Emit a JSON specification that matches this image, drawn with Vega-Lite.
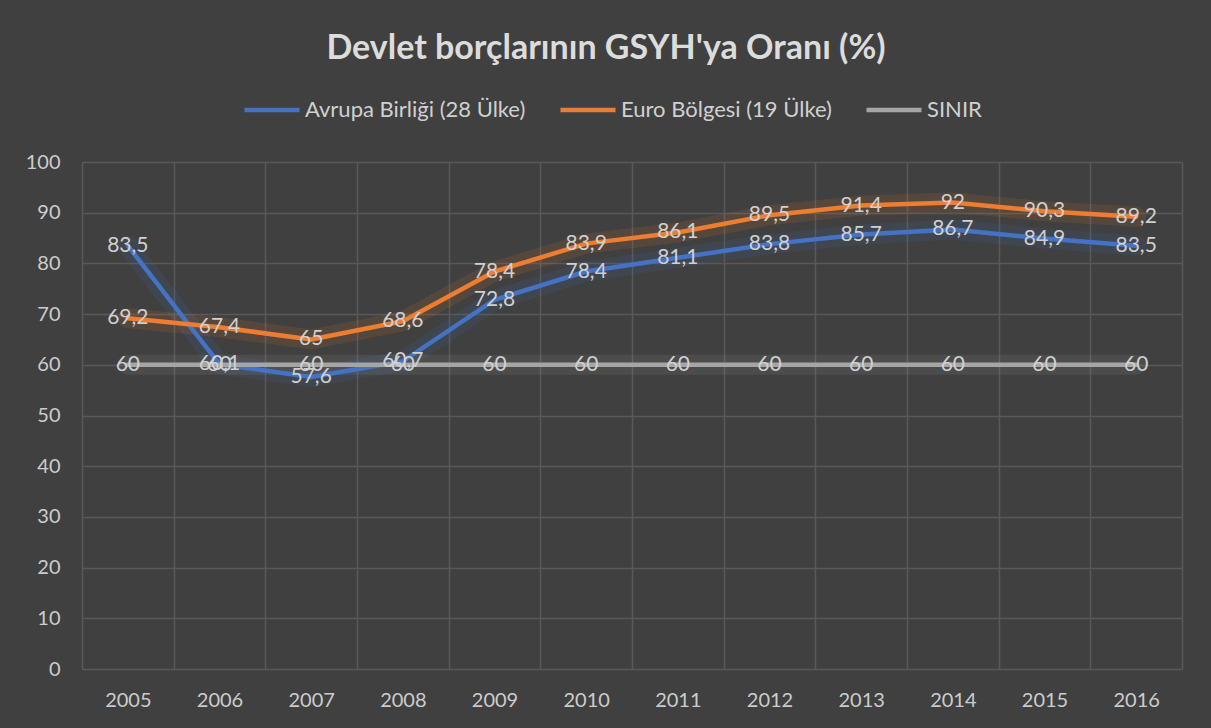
{
  "$schema": "https://vega.github.io/schema/vega-lite/v6.json",
  "width": 1100,
  "height": 507,
  "autosize": {"type": "none"},
  "padding": {"left": 82, "top": 162, "right": 29, "bottom": 59},
  "background": "#404040",
  "title": {
    "text": "Devlet borçlarının GSYH'ya Oranı (%)",
    "font": "Lato",
    "fontSize": 34,
    "fontWeight": "bold",
    "color": "#dcdcdc",
    "anchor": "middle",
    "dx": -26,
    "offset": 14
  },
  "config": {
    "locale": {"number": {"decimal": ",", "thousands": ".", "grouping": [3], "currency": ["", ""]}},
    "view": {"stroke": null},
    "font": "Lato"
  },
  "data": {
    "values": [
      {"year": "2005", "series": "Avrupa Birliği (28 Ülke)", "value": 83.5},
      {"year": "2006", "series": "Avrupa Birliği (28 Ülke)", "value": 60.1},
      {"year": "2007", "series": "Avrupa Birliği (28 Ülke)", "value": 57.6},
      {"year": "2008", "series": "Avrupa Birliği (28 Ülke)", "value": 60.7},
      {"year": "2009", "series": "Avrupa Birliği (28 Ülke)", "value": 72.8},
      {"year": "2010", "series": "Avrupa Birliği (28 Ülke)", "value": 78.4},
      {"year": "2011", "series": "Avrupa Birliği (28 Ülke)", "value": 81.1},
      {"year": "2012", "series": "Avrupa Birliği (28 Ülke)", "value": 83.8},
      {"year": "2013", "series": "Avrupa Birliği (28 Ülke)", "value": 85.7},
      {"year": "2014", "series": "Avrupa Birliği (28 Ülke)", "value": 86.7},
      {"year": "2015", "series": "Avrupa Birliği (28 Ülke)", "value": 84.9},
      {"year": "2016", "series": "Avrupa Birliği (28 Ülke)", "value": 83.5},
      {"year": "2005", "series": "Euro Bölgesi (19 Ülke)", "value": 69.2},
      {"year": "2006", "series": "Euro Bölgesi (19 Ülke)", "value": 67.4},
      {"year": "2007", "series": "Euro Bölgesi (19 Ülke)", "value": 65},
      {"year": "2008", "series": "Euro Bölgesi (19 Ülke)", "value": 68.6},
      {"year": "2009", "series": "Euro Bölgesi (19 Ülke)", "value": 78.4},
      {"year": "2010", "series": "Euro Bölgesi (19 Ülke)", "value": 83.9},
      {"year": "2011", "series": "Euro Bölgesi (19 Ülke)", "value": 86.1},
      {"year": "2012", "series": "Euro Bölgesi (19 Ülke)", "value": 89.5},
      {"year": "2013", "series": "Euro Bölgesi (19 Ülke)", "value": 91.4},
      {"year": "2014", "series": "Euro Bölgesi (19 Ülke)", "value": 92},
      {"year": "2015", "series": "Euro Bölgesi (19 Ülke)", "value": 90.3},
      {"year": "2016", "series": "Euro Bölgesi (19 Ülke)", "value": 89.2},
      {"year": "2005", "series": "SINIR", "value": 60},
      {"year": "2006", "series": "SINIR", "value": 60},
      {"year": "2007", "series": "SINIR", "value": 60},
      {"year": "2008", "series": "SINIR", "value": 60},
      {"year": "2009", "series": "SINIR", "value": 60},
      {"year": "2010", "series": "SINIR", "value": 60},
      {"year": "2011", "series": "SINIR", "value": 60},
      {"year": "2012", "series": "SINIR", "value": 60},
      {"year": "2013", "series": "SINIR", "value": 60},
      {"year": "2014", "series": "SINIR", "value": 60},
      {"year": "2015", "series": "SINIR", "value": 60},
      {"year": "2016", "series": "SINIR", "value": 60}
    ]
  },
  "encoding": {
    "x": {
      "field": "year",
      "type": "ordinal",
      "scale": {"type": "band", "paddingInner": 0, "paddingOuter": 0},
      "axis": {
        "title": null,
        "labelAngle": 0,
        "labelFont": "Lato",
        "labelFontSize": 20,
        "labelColor": "#cccccc",
        "labelPadding": 21,
        "domain": false,
        "ticks": false,
        "grid": true,
        "tickBand": "extent",
        "gridColor": "#585858",
        "gridWidth": 1.5
      }
    },
    "y": {
      "field": "value",
      "type": "quantitative",
      "scale": {"domain": [0, 100], "nice": false},
      "axis": {
        "title": null,
        "values": [0, 10, 20, 30, 40, 50, 60, 70, 80, 90, 100],
        "labelFont": "Lato",
        "labelFontSize": 20,
        "labelColor": "#cccccc",
        "labelPadding": 22,
        "domain": false,
        "ticks": false,
        "grid": true,
        "gridColor": "#585858",
        "gridWidth": 1.5
      }
    },
    "color": {
      "field": "series",
      "type": "nominal",
      "scale": {"domain": ["Avrupa Birliği (28 Ülke)", "Euro Bölgesi (19 Ülke)", "SINIR"], "range": ["#4472C4", "#ED7D31", "#A5A5A5"]},
      "legend": {
        "title": null,
        "orient": "none",
        "direction": "horizontal",
        "legendX": 160,
        "legendY": -82,
        "symbolType": "stroke",
        "symbolSize": 3025,
        "symbolStrokeWidth": 4.5,
        "symbolOpacity": 1,
        "labelFont": "Lato",
        "labelFontSize": 22,
        "labelColor": "#d0d0d0",
        "labelOffset": 3,
        "labelLimit": 0,
        "columnPadding": 25,
        "encode": {"symbols": {"update": {"strokeWidth": {"value": 4.5}, "opacity": {"value": 1}, "strokeOpacity": {"value": 1}}}}
      }
    }
  },
  "layer": [
    {
      "mark": {"type": "line", "strokeWidth": 20, "opacity": 0.13, "strokeCap": "round", "strokeJoin": "round"}
    },
    {
      "mark": {"type": "line", "strokeWidth": 4.5, "strokeCap": "round", "strokeJoin": "round"}
    },
    {
      "mark": {"type": "text", "font": "Lato", "fontSize": 21, "align": "center", "baseline": "middle"},
      "encoding": {
        "text": {"field": "value", "type": "quantitative", "format": "~f"},
        "color": {"value": "#d0d0d0"}
      }
    }
  ]
}
